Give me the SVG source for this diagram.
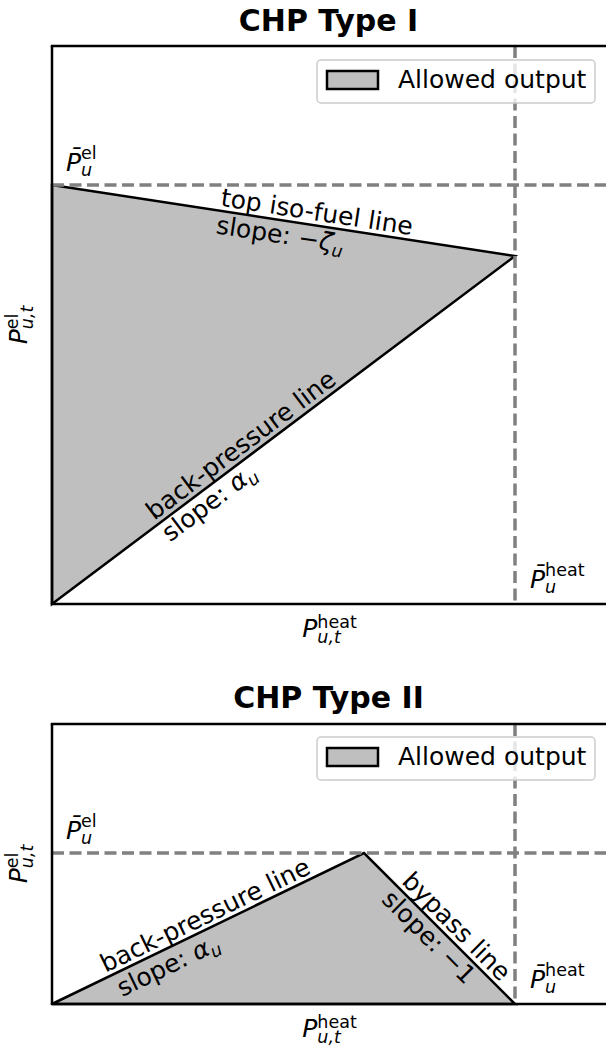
<svg xmlns="http://www.w3.org/2000/svg" width="606" height="1050" viewBox="0 0 606 1050">
<style>
text{font-family:"DejaVu Sans","Liberation Sans",sans-serif;font-size:25px;fill:#000}
.title{font-weight:bold;font-size:30px}
.it{font-style:italic}
.s{font-size:17.5px}
.region{fill:#bfbfbf;stroke:#000;stroke-width:2.5;stroke-linejoin:miter}
.dash{stroke:#808080;stroke-width:3.5;stroke-dasharray:12 5.5;fill:none}
.spine{stroke:#000;stroke-width:2.5;fill:none}
.legbox{fill:#fff;fill-opacity:0.8;stroke:#cccccc;stroke-width:1.5}
.legpatch{fill:#bfbfbf;stroke:#000;stroke-width:2.5}
</style>

<!-- Type I -->
<g id="typeI">
  <text class="title" x="328.5" y="31" text-anchor="middle">CHP Type I</text>
  <g id="typeI-region">
    <polygon class="region" points="52,185 515,256 52,604"/>
  </g>
  <g id="typeI-connectors">
    <line class="dash" x1="52" y1="185" x2="606" y2="185"/>
    <line class="dash" x1="515" y1="46" x2="515" y2="604"/>
  </g>
  <g id="typeI-labels">
    <g transform="translate(315,225.3) rotate(8.718)">
      <text x="0" y="-5" text-anchor="middle">top iso-fuel line</text>
      <text x="-33" y="23" text-anchor="middle">slope: −<tspan class="it">ζ</tspan><tspan class="it s" dy="5">u</tspan></text>
    </g>
    <g transform="translate(249,455.8) rotate(-36.93)">
      <text x="0" y="-5" text-anchor="middle">back-pressure line</text>
      <text x="-60" y="22" text-anchor="middle">slope: <tspan class="it">α</tspan><tspan class="it s" dy="5">u</tspan></text>
    </g>
    <text x="66" y="171"><tspan class="it">P&#x304;</tspan><tspan class="it s" dy="5">u</tspan><tspan class="s" dx="-11.1" dy="-17">el</tspan></text>
    <text x="530" y="588"><tspan class="it">P&#x304;</tspan><tspan class="it s" dy="5">u</tspan><tspan class="s" dx="-11.1" dy="-17">heat</tspan></text>
  </g>
  <g id="typeI-axes">
    <line class="spine" x1="52" y1="46" x2="52" y2="604"/>
    <line class="spine" x1="50.75" y1="46" x2="606" y2="46"/>
    <line class="spine" x1="50.75" y1="604" x2="606" y2="604"/>
    <text transform="translate(27,325) rotate(-90)" text-anchor="middle"><tspan class="it">P</tspan><tspan class="s" dy="-9">el</tspan><tspan class="it s" dx="-15.6" dy="15">u,t</tspan></text>
    <text x="329.5" y="637" text-anchor="middle"><tspan class="it">P</tspan><tspan class="it s" dy="6">u,t</tspan><tspan class="s" dx="-23.5" dy="-15">heat</tspan></text>
  </g>
  <g id="typeI-legend">
    <rect class="legbox" x="317" y="60" width="278" height="43" rx="4"/>
    <rect class="legpatch" x="327" y="71" width="51" height="18"/>
    <text x="398" y="88">Allowed output</text>
  </g>
</g>

<!-- Type II -->
<g id="typeII">
  <text class="title" x="328.5" y="708" text-anchor="middle">CHP Type II</text>
  <g id="typeII-region">
    <polygon class="region" points="52,1004 364,853 515,1004"/>
  </g>
  <g id="typeII-connectors">
    <line class="dash" x1="52" y1="853" x2="606" y2="853"/>
    <line class="dash" x1="515" y1="724" x2="515" y2="1004"/>
  </g>
  <g id="typeII-labels">
    <g transform="translate(211,927.4) rotate(-25.82)">
      <text x="0" y="-5" text-anchor="middle">back-pressure line</text>
      <text x="-55" y="24" text-anchor="middle">slope: <tspan class="it">α</tspan><tspan class="it s" dy="5">u</tspan></text>
    </g>
    <g transform="translate(447,936) rotate(45)">
      <text x="0" y="-5" text-anchor="middle">bypass line</text>
      <text x="-12" y="22" text-anchor="middle">slope: −1</text>
    </g>
    <text x="66" y="839"><tspan class="it">P&#x304;</tspan><tspan class="it s" dy="5">u</tspan><tspan class="s" dx="-11.1" dy="-17">el</tspan></text>
    <text x="530" y="988"><tspan class="it">P&#x304;</tspan><tspan class="it s" dy="5">u</tspan><tspan class="s" dx="-11.1" dy="-17">heat</tspan></text>
  </g>
  <g id="typeII-axes">
    <line class="spine" x1="52" y1="724" x2="52" y2="1004"/>
    <line class="spine" x1="50.75" y1="724" x2="606" y2="724"/>
    <line class="spine" x1="50.75" y1="1004" x2="606" y2="1004"/>
    <text transform="translate(27,864) rotate(-90)" text-anchor="middle"><tspan class="it">P</tspan><tspan class="s" dy="-9">el</tspan><tspan class="it s" dx="-15.6" dy="15">u,t</tspan></text>
    <text x="329.5" y="1037" text-anchor="middle"><tspan class="it">P</tspan><tspan class="it s" dy="6">u,t</tspan><tspan class="s" dx="-23.5" dy="-15">heat</tspan></text>
  </g>
  <g id="typeII-legend">
    <rect class="legbox" x="317" y="737" width="278" height="43" rx="4"/>
    <rect class="legpatch" x="327" y="748" width="51" height="18"/>
    <text x="398" y="765">Allowed output</text>
  </g>
</g>
</svg>
